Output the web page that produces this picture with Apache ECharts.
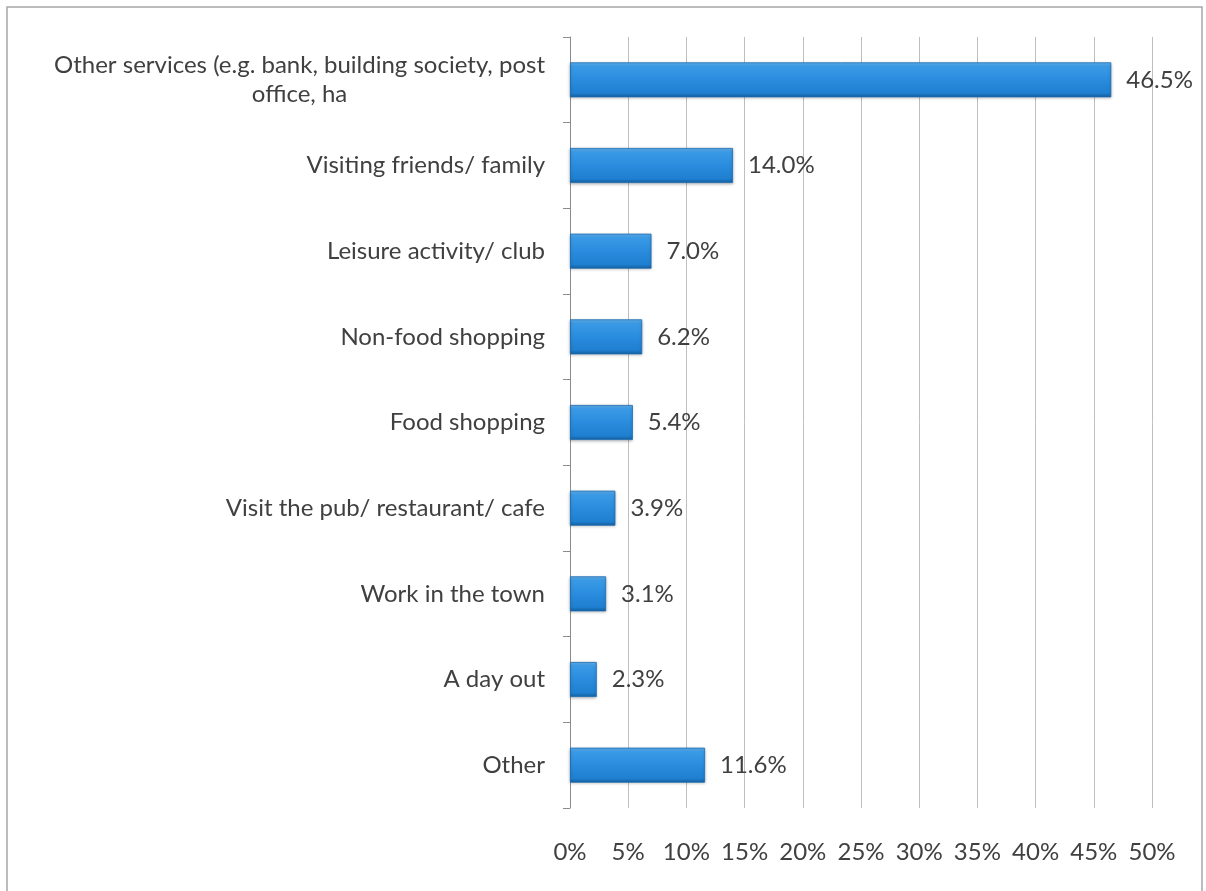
<!DOCTYPE html>
<html>
<head>
<meta charset="utf-8">
<style>
  html, body { margin: 0; padding: 0; background: #ffffff; }
  #chart { width: 1206px; height: 891px; }
</style>
<script src="https://cdn.jsdelivr.net/npm/echarts@6/dist/echarts.min.js"></script>
</head>
<body>
<div id="chart"></div>
<script>
// Reasons for visiting the town (share of respondents, %)
const categories = [
  'Other services (e.g. bank, building society, post office, ha',
  'Visiting friends/ family',
  'Leisure activity/ club',
  'Non-food shopping',
  'Food shopping',
  'Visit the pub/ restaurant/ cafe',
  'Work in the town',
  'A day out',
  'Other'
];
const shares = [46.5, 14.0, 7.0, 6.2, 5.4, 3.9, 3.1, 2.3, 11.6];
const axisMax = 50;
const axisStep = 5;

const FONT = 'Lato';
const TEXT = '#404040';
const SIZE = 24;

// Wrap long category names on word boundaries, centring each line
function wrapName(name, maxChars) {
  const words = name.split(' ');
  const lines = [];
  let cur = '';
  words.forEach(w => {
    const next = cur ? cur + ' ' + w : w;
    if (next.length > maxChars && cur) { lines.push(cur); cur = w; }
    else { cur = next; }
  });
  if (cur) lines.push(cur);
  return lines.map(l => '{c|' + l + '}').join('\n');
}

const chart = echarts.init(document.getElementById('chart'));
chart.setOption({
  backgroundColor: '#ffffff',
  animation: false,
  graphic: [{
    type: 'rect',
    shape: { x: 7, y: 7, width: 1195, height: 900 },
    style: { fill: 'none', stroke: '#a6a6a6', lineWidth: 1.5 },
    silent: true
  }],
  grid: { left: 570, right: 54, top: 37, bottom: 83, containLabel: false },
  xAxis: {
    type: 'value',
    min: 0,
    max: axisMax,
    interval: axisStep,
    axisLine: { show: false },
    axisTick: { show: false },
    splitLine: { show: true, lineStyle: { color: '#bfbfbf', width: 1 } },
    axisLabel: {
      formatter: '{value}%',
      margin: 32,
      fontFamily: FONT,
      fontSize: SIZE,
      color: TEXT
    }
  },
  yAxis: {
    type: 'category',
    data: categories,
    inverse: true,
    axisLine: { show: true, lineStyle: { color: '#8c8c8c', width: 1 } },
    axisTick: { show: true, length: 7, lineStyle: { color: '#8c8c8c' } },
    splitLine: { show: false },
    axisLabel: {
      margin: 25,
      fontFamily: FONT,
      fontSize: SIZE,
      color: TEXT,
      lineHeight: 29,
      formatter: v => wrapName(v, 50),
      rich: { c: { align: 'center', fontFamily: FONT, fontSize: SIZE, color: TEXT, lineHeight: 29 } }
    }
  },
  series: [{
    type: 'bar',
    data: shares,
    barWidth: 35,
    itemStyle: {
      color: new echarts.graphic.LinearGradient(0, 0, 0, 1, [
        { offset: 0, color: '#63b3f0' },
        { offset: 0.12, color: '#3a9ae6' },
        { offset: 0.5, color: '#2a8cde' },
        { offset: 0.88, color: '#1f7fd0' },
        { offset: 1, color: '#155f9e' }
      ]),
      borderColor: '#1a6cb3',
      borderWidth: 0.8,
      shadowColor: 'rgba(0,0,0,0.25)',
      shadowBlur: 3,
      shadowOffsetY: 1
    },
    label: {
      show: true,
      position: 'right',
      distance: 15,
      formatter: p => p.value.toFixed(1) + '%',
      fontFamily: FONT,
      fontSize: SIZE,
      color: TEXT
    }
  }]
});
</script>
</body>
</html>
